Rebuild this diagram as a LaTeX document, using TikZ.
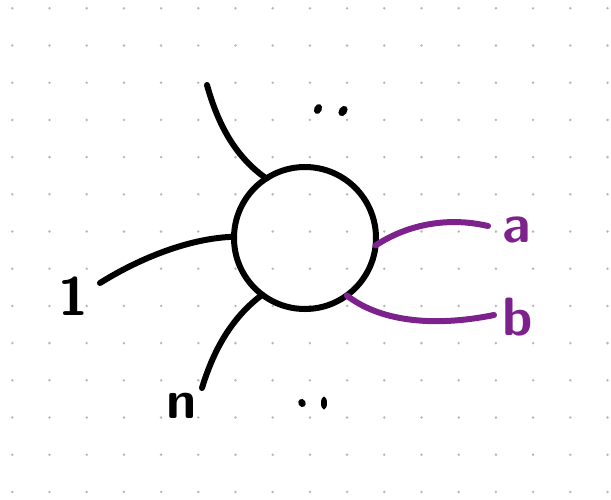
\documentclass[tikz,border=0pt]{standalone}
\usepackage{tikz}
\definecolor{violet}{RGB}{125,33,140}
\definecolor{pointgris}{RGB}{185,185,185}
\tikzset{
	trait/.style={line width=6pt, black},
	traitv/.style={line width=6pt, violet},
	lettre/.style={font=\sffamily\bfseries\fontsize{54}{54}\selectfont, inner sep=0pt},
}
\begin{document}
\begin{tikzpicture}[line cap=round,line join=round,x=1pt,y=-1pt]
			\useasboundingbox (0,0) rectangle (611,499);
			%grille de points
			\foreach \i in {0,...,16}
				\foreach \j in {0,...,13}
					\fill[pointgris] (12.3+37.2*\i,8.3+37.2*\j) circle (1.4);
			%vertex
			\node[draw, circle, trait, minimum size=142pt, inner sep=0pt, outer sep=0pt] (blob) at (305,238) {};
			%extremites libres
			\coordinate (h) at (207,85);
			\coordinate (g) at (100,283);
			\coordinate (bas) at (202,388);
			\coordinate (ea) at (488,226);
			\coordinate (eb) at (494,315);
			\draw [trait] (h) .. controls (220,132) and (240,160) .. (blob.123);
			\draw [trait] (g) .. controls (140,258) and (190,238) .. (blob.179);
			\draw [trait] (bas) .. controls (215,345) and (235,315) .. (blob.233);
			\draw [traitv] (blob.-6) .. controls (405,226) and (445,216) .. (ea);
			\draw [traitv] (blob.-54) .. controls (378,320) and (430,328) .. (eb);
			%etiquettes
			\node[lettre] (l1) at (73,296) {1};
			\node[lettre] (ln) at (182,406) {n};
			\node[lettre, violet] (la) at (517,230) {a};
			\node[lettre, violet] (lb) at (518,317) {b};
			%points de suspension
			\fill (318,109) ellipse [x radius=3.8, y radius=5.2, rotate=-25];
			\fill (343,111) ellipse [x radius=4, y radius=5.6, rotate=-35];
			\fill (302,403) ellipse [x radius=3.6, y radius=4.2, rotate=30];
			\fill (324,403) ellipse [x radius=3, y radius=6.5];
\end{tikzpicture}
\end{document}
